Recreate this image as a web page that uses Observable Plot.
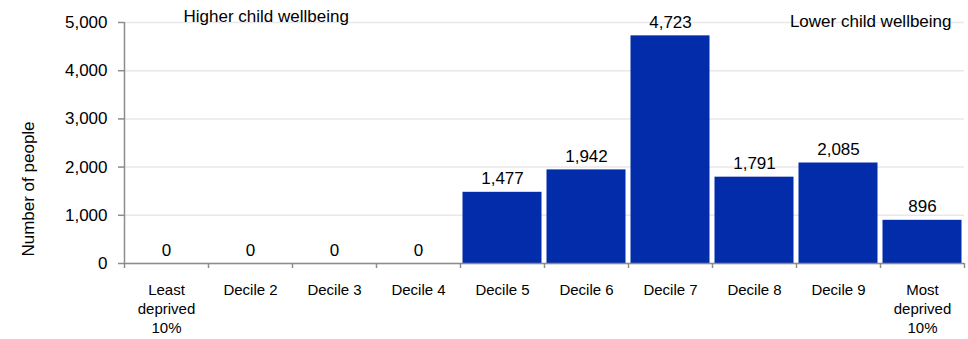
<!DOCTYPE html>
<html>
<head>
<meta charset="utf-8">
<script src="https://cdn.jsdelivr.net/npm/d3@7"></script>
<script src="https://cdn.jsdelivr.net/npm/@observablehq/plot@0.6"></script>
<style>
  body { margin: 0; background: #fff; }
  #chart svg { display: block; }
</style>
</head>
<body>
<div id="chart"></div>
<script>
const categories = [
  "Least\ndeprived\n10%", "Decile 2", "Decile 3", "Decile 4", "Decile 5",
  "Decile 6", "Decile 7", "Decile 8", "Decile 9", "Most\ndeprived\n10%"
];
const values = [0, 0, 0, 0, 1477, 1942, 4723, 1791, 2085, 896];
const yTicks = [0, 1000, 2000, 3000, 4000, 5000];
const yLabel = "Number of people";
const leftNote = "Higher child wellbeing";
const rightNote = "Lower child wellbeing";

const data = categories.map((c, i) => ({category: c, value: values[i]}));

const W = 968, H = 339, ML = 124, MR = 4, MT = 22, MB = 76;
const half = (W - ML - MR) / categories.length / 2;
const fmt = d3.format(",");
const font = "'Liberation Sans', Arial, sans-serif";
const axisGrey = "#8c8c8c";

const plot = Plot.plot({
  width: W,
  height: H,
  marginLeft: ML,
  marginRight: MR,
  marginTop: MT,
  marginBottom: MB,
  style: {fontFamily: font, color: "#000", background: "#fff"},
  x: {domain: categories, padding: 0, axis: null},
  y: {domain: [0, 5000], ticks: yTicks, axis: null},
  marks: [
    Plot.gridY(yTicks, {stroke: "#e8e8e8", strokeOpacity: 1, strokeWidth: 1.5}),
    Plot.barY(data, {x: "category", y: "value", fill: "#022CAA", insetLeft: 2.5, insetRight: 2.5}),
    // axes lines
    Plot.ruleY([0], {stroke: axisGrey, strokeWidth: 1.5}),
    Plot.ruleX([categories[0]], {x: d => d, dx: -half, y1: () => 0, y2: () => 5000, stroke: axisGrey, strokeWidth: 1.5}),
    // boundary ticks on x axis
    Plot.ruleX(categories, {x: d => d, dx: -half, y1: () => 0, y2: () => 0, insetBottom: -5, stroke: axisGrey, strokeWidth: 1.5}),
    Plot.ruleX([categories[categories.length - 1]], {x: d => d, dx: half, y1: () => 0, y2: () => 0, insetBottom: -5, stroke: axisGrey, strokeWidth: 1.5}),
    Plot.axisY({
      ticks: yTicks, tickFormat: fmt, tickSize: 6, tickPadding: 11,
      stroke: axisGrey, strokeWidth: 1.5, fill: "#000", fontSize: 17, label: null
    }),
    Plot.axisX({
      tickSize: 0, tickPadding: 18, fontSize: 15, lineHeight: 1.27,
      fill: "#000", label: null
    }),
    Plot.text(data, {
      x: "category", y: "value", text: d => fmt(d.value),
      lineAnchor: "bottom", dy: -8, fontSize: 17, fill: "#000"
    }),
    Plot.text([yLabel], {
      frameAnchor: "left", text: d => d, rotate: -90, textAnchor: "middle", lineAnchor: "middle",
      dx: 28.5 - ML, dy: 46, fontSize: 17, fill: "#000"
    }),
    Plot.text([leftNote], {
      frameAnchor: "top-left", text: d => d, textAnchor: "start", lineAnchor: "middle",
      dx: 59, dy: -6, fontSize: 17, fill: "#000"
    }),
    Plot.text([rightNote], {
      frameAnchor: "top-right", text: d => d, textAnchor: "end", lineAnchor: "middle",
      dx: -13, dy: -1, fontSize: 17, fill: "#000"
    })
  ]
});
document.getElementById("chart").appendChild(plot);
</script>
</body>
</html>
